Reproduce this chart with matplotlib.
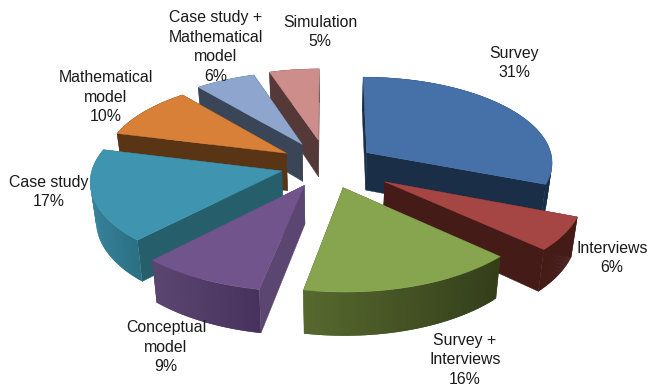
"""Exploded 3D-style pie chart of research methods."""
import numpy as np
import matplotlib
matplotlib.use('Agg')
import matplotlib.pyplot as plt
from matplotlib.patches import Polygon
from matplotlib.colors import to_rgb

plt.rcParams['font.family'] = ['Liberation Sans', 'DejaVu Sans']

labels = ["Survey\n31%", "Interviews\n6%", "Survey +\nInterviews\n16%",
          "Conceptual\nmodel\n9%", "Case study\n17%", "Mathematical\nmodel\n10%",
          "Case study +\nMathematical\nmodel\n6%", "Simulation\n5%"]
values = [31, 6, 16, 9, 17, 10, 6, 5]
top_colors = ['#4671A8', '#A64644', '#87A54E', '#70548B', '#3F94AF', '#D87F38', '#8EA6CE', '#CC8D8B']
side_colors = ['#1A2E48', '#451B18', '#39441C', '#5B4672', '#265E6C', '#5A3515', '#3A4558', '#553838']
arc_left = ['#1A2E48', '#451B18', '#57692F', '#5B4672', '#37829A', '#5A3515', '#3A4558', '#553838']
arc_right = ['#1A2E48', '#451B18', '#343F1A', '#46325C', '#2B7084', '#5A3515', '#3A4558', '#553838']
label_pos = [(514, 63), (612, 258), (465, 360), (166, 347), (49, 192), (106, 97), (216, 47), (320, 32)]

# projection settings, all in pixels of the 648x387 canvas
cx, cy = 327, 165
rx, ry = 203, 93
persp = 0.11
depth = 38
taper = 0.025  # walls lean inward going down
# how far each slice is pulled out, and its radius
explode = [0.24, 0.33, 0.25, 0.24, 0.23, 0.24, 0.26, 0.28]
radius = [0.92, 0.95, 0.95, 0.97, 0.93, 0.90, 0.90, 0.89]


def project(x, y, z=0.0):
    w = 1.0 / (1.0 - persp * y)
    return cx + rx * x * w * (1 - taper * z), cy + ry * y * w + depth * z * w


fig = plt.figure(figsize=(6.48, 3.87), dpi=100)
ax = fig.add_axes([0, 0, 1, 1])
ax.set_xlim(0, 648)
ax.set_ylim(387, 0)
ax.axis('off')

fractions = np.array(values) / sum(values)
ends = np.cumsum(fractions) * 2 * np.pi
starts = ends - fractions * 2 * np.pi
mids = (starts + ends) / 2

# paint from the back of the pie to the front
for i in np.argsort(-np.cos(mids)):
    ox = explode[i] * np.sin(mids[i])
    oy = -explode[i] * np.cos(mids[i])
    t = np.linspace(starts[i], ends[i], 60)
    wx = ox + radius[i] * np.sin(t)
    wy = oy - radius[i] * np.cos(t)

    # the two cut faces
    for end in (0, -1):
        a = project(ox, oy)
        b = project(wx[end], wy[end])
        c = project(wx[end], wy[end], 1)
        d = project(ox, oy, 1)
        ax.add_patch(Polygon([a, b, c, d], fc=side_colors[i], ec=side_colors[i], lw=0.3))

    # outer rim, shaded across its width
    c0 = np.array(to_rgb(arc_left[i]))
    c1 = np.array(to_rgb(arc_right[i]))
    sx, _ = project(wx, wy)
    lo, hi = sx.min(), sx.max()
    for j in range(len(t) - 1):
        f = (sx[j] - lo) / max(hi - lo, 1)
        col = c0 + (c1 - c0) * f
        k = min(j + 2, len(t) - 1)
        quad = [project(wx[j], wy[j]), project(wx[k], wy[k]),
                project(wx[k], wy[k], 1), project(wx[j], wy[j], 1)]
        ax.add_patch(Polygon(quad, fc=col, ec='none'))

    # top face
    px, py = project(wx, wy)
    apex = project(ox, oy)
    pts = [apex] + list(zip(px, py))
    ax.add_patch(Polygon(pts, fc=top_colors[i], ec=top_colors[i], lw=0.3))

for text, (lx, ly) in zip(labels, label_pos):
    ax.text(lx, ly, text, ha='center', va='center', fontsize=11.4, color='#1a1a1a', linespacing=1.4)

plt.savefig("out.png", dpi=100)
plt.close()
